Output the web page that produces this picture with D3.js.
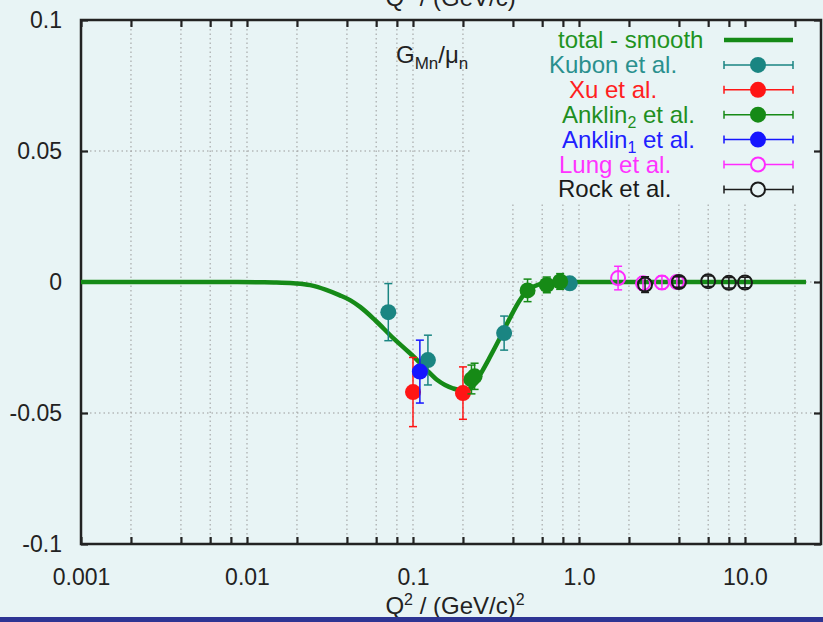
<!DOCTYPE html>
<html>
<head>
<meta charset="utf-8">
<script src="https://cdn.jsdelivr.net/npm/d3@7"></script>
<style>
  html, body { margin: 0; padding: 0; background: #e8f4f5; }
  svg { display: block; font-family: "Liberation Sans", Arial, sans-serif; }
</style>
</head>
<body>
<div id="chart"></div>
<script>
// data
var curveQ2 = [0.001, 0.008, 0.012, 0.015, 0.019, 0.024, 0.030, 0.036, 0.042, 0.048, 0.059, 0.076, 0.090, 0.106, 0.121, 0.140, 0.156, 0.174, 0.192, 0.208, 0.227, 0.253, 0.291, 0.334, 0.384, 0.441, 0.486, 0.543, 0.624, 0.77, 23.3];
var curveG  = [0, 0, -0.0001, -0.0002, -0.0005, -0.0012, -0.0030, -0.0050, -0.0070, -0.0095, -0.0145, -0.0214, -0.0256, -0.0298, -0.0336, -0.0374, -0.0393, -0.0406, -0.0412, -0.0412, -0.0401, -0.0355, -0.0286, -0.0214, -0.0137, -0.0069, -0.0034, -0.0015, -0.0004, 0, 0];

var kubonQ2 = [0.071, 0.123, 0.354, 0.88];
var kubonG = [-0.0115, -0.0298, -0.0195, -0.0005];
var kubonErr = [0.0109, 0.0095, 0.0065, 0.002];

var xuQ2 = [0.1, 0.2];
var xuG = [-0.042, -0.0424];
var xuErr = [0.0132, 0.0100];

var anklin2Q2 = [0.225, 0.235, 0.49, 0.64, 0.77];
var anklin2G = [-0.0372, -0.0360, -0.0032, -0.0011, 0.0002];
var anklin2Err = [0.0055, 0.005, 0.0043, 0.003, 0.003];

var anklin1Q2 = [0.11];
var anklin1G = [-0.0342];
var anklin1Err = [0.012];

var lungQ2 = [1.72, 2.43, 3.16, 3.89];
var lungG = [0.0015, -0.0005, -0.0002, 0.0];
var lungErr = [0.0045, 0.0025, 0.0025, 0.002];

var rockQ2 = [2.5, 4.0, 6.0, 8.0, 10.0];
var rockG = [-0.001, 0.0, 0.0003, -0.0003, -0.0002];
var rockErr = [0.003, 0.002, 0.002, 0.002, 0.002];

var xTicks = [0.001, 0.002, 0.004, 0.006, 0.008, 0.01, 0.02, 0.04, 0.06, 0.08, 0.1, 0.2, 0.4, 0.6, 0.8, 1, 2, 4, 6, 8, 10, 20];
var xLabels = {0.001: "0.001", 0.01: "0.01", 0.1: "0.1", 1: "1.0", 10: "10.0"};
var yTicks = [0.1, 0.05, 0, -0.05, -0.1];
var yLabels = ["0.1", "0.05", "0", "-0.05", "-0.1"];

const W = 823, H = 622;
const pLeft = 81, pRight = 821, pTop = 20, pBottom = 544;
const bg = "#e8f4f5";

var svg = d3.select("#chart").append("svg")
    .attr("width", W).attr("height", H);

var x = d3.scaleLog().domain([0.001, 28.7]).range([pLeft, pRight]);
var y = d3.scaleLinear().domain([-0.1, 0.1]).range([pBottom, pTop]);

// grid
var grid = svg.append("g")
    .attr("stroke", "#9a9a9a")
    .attr("stroke-width", 1)
    .attr("stroke-dasharray", "1.5,3");
grid.selectAll(".vg")
    .data(xTicks.filter(function(d) { return d > 0.001; }))
    .join("line")
    .attr("class", "vg")
    .attr("x1", function(d) { return x(d); })
    .attr("x2", function(d) { return x(d); })
    .attr("y1", pTop).attr("y2", pBottom);
grid.selectAll(".hg")
    .data([0.05, 0, -0.05])
    .join("line")
    .attr("class", "hg")
    .attr("x1", pLeft).attr("x2", pRight)
    .attr("y1", function(d) { return y(d); })
    .attr("y2", function(d) { return y(d); });

// legend background covers the grid (opaque key)
svg.append("rect")
    .attr("x", 470).attr("y", pTop + 2)
    .attr("width", pRight - 470 - 2).attr("height", 180)
    .attr("fill", bg);

// axes
var fontAxis = "23px";
var xAxis = svg.append("g")
    .attr("transform", "translate(0," + pBottom + ")")
    .call(d3.axisBottom(x).tickValues(xTicks).tickSize(-7).tickPadding(25)
        .tickFormat(function(d) { return xLabels[d] || ""; }));
var xAxisTop = svg.append("g")
    .attr("transform", "translate(0," + pTop + ")")
    .call(d3.axisTop(x).tickValues(xTicks).tickSize(-7).tickFormat(""));
var yAxis = svg.append("g")
    .attr("transform", "translate(" + pLeft + ",0)")
    .call(d3.axisLeft(y).tickValues(yTicks).tickSize(-7).tickPadding(19)
        .tickFormat(function(d, i) { return yLabels[i]; }));
var yAxisRight = svg.append("g")
    .attr("transform", "translate(" + pRight + ",0)")
    .call(d3.axisRight(y).tickValues(yTicks).tickSize(-7).tickFormat(""));

[xAxis, xAxisTop, yAxis, yAxisRight].forEach(function(a) {
    a.select(".domain").remove();
    a.selectAll(".tick line").attr("stroke", "#222").attr("stroke-width", 2.2);
    a.selectAll(".tick text").attr("fill", "#222").style("font-size", fontAxis)
        .style("font-family", "Liberation Sans, Arial, sans-serif");
});

// frame
svg.append("rect")
    .attr("x", pLeft).attr("y", pTop)
    .attr("width", pRight - pLeft).attr("height", pBottom - pTop)
    .attr("fill", "none").attr("stroke", "#222").attr("stroke-width", 2.5);

// axis titles (bottom and the cut-off top one)
function q2Title(yPos) {
    var t = svg.append("text")
        .attr("x", 455).attr("y", yPos)
        .attr("text-anchor", "middle")
        .attr("fill", "#222")
        .style("font-size", "24px");
    t.append("tspan").text("Q");
    t.append("tspan").attr("dy", -9).style("font-size", "16px").text("2");
    t.append("tspan").attr("dy", 9).text(" / (GeV/c)");
    t.append("tspan").attr("dy", -9).style("font-size", "16px").text("2");
}
q2Title(614);
q2Title(6);

// plot label G_Mn / mu_n
var gl = svg.append("text")
    .attr("x", 396).attr("y", 63)
    .attr("fill", "#222")
    .style("font-size", "24px");
gl.append("tspan").text("G");
gl.append("tspan").attr("dy", 6).style("font-size", "17px").text("Mn");
gl.append("tspan").attr("dy", -6).text("/μ");
gl.append("tspan").attr("dy", 6).style("font-size", "17px").text("n");

// curve
var line = d3.line()
    .x(function(d) { return x(d[0]); })
    .y(function(d) { return y(d[1]); })
    .curve(d3.curveMonotoneX);
svg.append("path")
    .datum(d3.zip(curveQ2, curveG))
    .attr("fill", "none")
    .attr("stroke", "#158a17")
    .attr("stroke-width", 4.5)
    .attr("d", line);

// data series
var series = [
    {q: kubonQ2, g: kubonG, e: kubonErr, color: "#1a8582", open: false},
    {q: xuQ2, g: xuG, e: xuErr, color: "#ff1515", open: false},
    {q: anklin2Q2, g: anklin2G, e: anklin2Err, color: "#168a16", open: false},
    {q: anklin1Q2, g: anklin1G, e: anklin1Err, color: "#1515ff", open: false},
    {q: lungQ2, g: lungG, e: lungErr, color: "#ff2aff", open: true},
    {q: rockQ2, g: rockG, e: rockErr, color: "#1a1a1a", open: true}
];

series.forEach(function(s) {
    var pts = d3.zip(s.q, s.g, s.e);
    var grp = svg.append("g");
    var eb = grp.selectAll(".eb").data(pts).join("g")
        .attr("class", "eb")
        .attr("stroke", s.color).attr("stroke-width", 1.5);
    eb.append("line")
        .attr("x1", function(d) { return x(d[0]); })
        .attr("x2", function(d) { return x(d[0]); })
        .attr("y1", function(d) { return y(d[1] + d[2]); })
        .attr("y2", function(d) { return y(d[1] - d[2]); });
    [1, -1].forEach(function(sg) {
        eb.append("line")
            .attr("x1", function(d) { return x(d[0]) - 4; })
            .attr("x2", function(d) { return x(d[0]) + 4; })
            .attr("y1", function(d) { return y(d[1] + sg * d[2]); })
            .attr("y2", function(d) { return y(d[1] + sg * d[2]); });
    });
    grp.selectAll("circle").data(pts).join("circle")
        .attr("cx", function(d) { return x(d[0]); })
        .attr("cy", function(d) { return y(d[1]); })
        .attr("r", s.open ? 7 : 8)
        .attr("fill", s.open ? "none" : s.color)
        .attr("stroke", s.color)
        .attr("stroke-width", s.open ? 2 : 0);
});

// legend
var legendRows = [
    {label: ["total - smooth"], color: "#1f931f", line: true, tx: 558},
    {label: ["Kubon et al."], color: "#2a908e", s: 0, tx: 549},
    {label: ["Xu et al."], color: "#ff2020", s: 1, tx: 569},
    {label: ["Anklin", "2", " et al."], color: "#1f8f1f", s: 2, tx: 562},
    {label: ["Anklin", "1", " et al."], color: "#2020ff", s: 3, tx: 562},
    {label: ["Lung et al."], color: "#ff33ff", s: 4, tx: 559},
    {label: ["Rock et al."], color: "#1a1a1a", s: 5, tx: 558}
];
var lx1 = 724, lx2 = 793, lcx = 758;
legendRows.forEach(function(r, i) {
    var ly = 40 + i * 24.9;
    var t = svg.append("text")
        .attr("x", r.tx).attr("y", ly + 8)
        .attr("fill", r.color)
        .style("font-size", "24px");
    t.append("tspan").text(r.label[0]);
    if (r.label.length > 1) {
        t.append("tspan").attr("dy", 5).style("font-size", "16px").text(r.label[1]);
        t.append("tspan").attr("dy", -5).text(r.label[2]);
    }
    if (r.line) {
        svg.append("line")
            .attr("x1", lx1).attr("x2", lx2).attr("y1", ly).attr("y2", ly)
            .attr("stroke", "#158a17").attr("stroke-width", 4.5);
        return;
    }
    var s = series[r.s];
    var g = svg.append("g").attr("stroke", s.color).attr("stroke-width", 1.5);
    g.append("line").attr("x1", lx1).attr("x2", lx2).attr("y1", ly).attr("y2", ly);
    g.append("line").attr("x1", lx1).attr("x2", lx1).attr("y1", ly - 4).attr("y2", ly + 4);
    g.append("line").attr("x1", lx2).attr("x2", lx2).attr("y1", ly - 4).attr("y2", ly + 4);
    svg.append("circle")
        .attr("cx", lcx).attr("cy", ly)
        .attr("r", s.open ? 7 : 8)
        .attr("fill", s.open ? bg : s.color)
        .attr("stroke", s.color)
        .attr("stroke-width", s.open ? 2 : 0);
});

// dark band at the bottom edge
svg.append("rect")
    .attr("x", 0).attr("y", 617)
    .attr("width", W).attr("height", H - 617)
    .attr("fill", "#2d3493");
</script>
</body>
</html>
